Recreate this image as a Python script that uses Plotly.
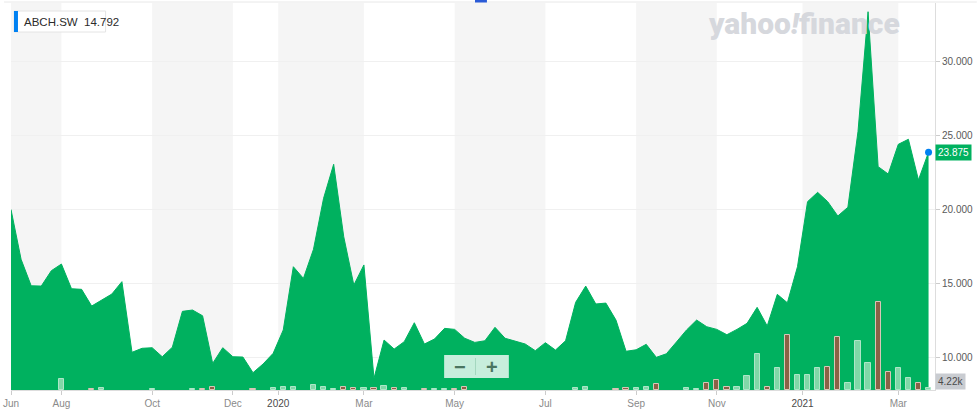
import plotly.graph_objects as go

# ---------------- data ----------------
weeks = list(range(92))  # weekly points (index based x, as in the original chart)
price = [20.0, 16.63, 14.84, 14.82, 15.86, 16.31, 14.64, 14.60, 13.47, 13.88,
         14.28, 15.12, 10.34, 10.61, 10.65, 10.04, 10.68, 13.11, 13.20, 12.81,
         9.59, 10.65, 10.04, 10.02, 8.96, 9.55, 10.27, 11.85, 16.13, 15.34,
         17.31, 20.76, 23.06, 18.16, 14.89, 16.25, 8.58, 11.17, 10.56, 11.06,
         12.34, 10.90, 11.24, 11.96, 11.89, 11.29, 11.01, 11.12, 12.03, 11.29,
         11.12, 10.90, 10.45, 10.99, 10.49, 11.12, 13.72, 14.82, 13.61, 13.67,
         12.52, 10.41, 10.51, 10.88, 10.00, 10.24, 11.04, 11.85, 12.52, 12.07,
         11.89, 11.53, 11.89, 12.30, 13.38, 12.12, 14.26, 13.69, 16.13, 20.53,
         21.16, 20.53, 19.56, 20.15, 25.26, 33.38, 22.90, 22.40, 24.41, 24.75,
         22.00, 23.875]
volume_k = [0, 0, 0, 0, 0, 20.1, 0, 0, 1.8, 3.1,
            0, 0, 0, 0, 1.8, 0, 0, 0, 1.8, 1.8,
            4.9, 0, 0, 0, 1.8, 0, 3.1, 4.9, 4.9, 0,
            8.6, 4.9, 1.8, 6.0, 3.1, 3.1, 3.1, 7.3, 3.1, 3.1,
            0, 1.8, 1.8, 1.8, 1.8, 4.6, 0, 0, 0, 0,
            0, 0, 0, 0, 0, 0, 3.1, 4.9, 0, 0,
            1.8, 3.1, 3.1, 5.5, 10.4, 0, 0, 3.1, 1.8, 12.3,
            18.3, 5.5, 4.9, 25.6, 65.9, 4.9, 40.3, 100.7, 27.5, 27.5,
            39.7, 41.5, 96.4, 12.3, 89.1, 48.9, 160.5, 32.9, 40.3, 21.4,
            12.3, 4.22]
tick_pos = [0, 5, 14, 22, 26.5, 35, 44, 53, 62, 70, 78.5, 88]
tick_labels = ["Jun", "Aug", "Oct", "Dec", "2020", "Mar", "May", "Jul", "Sep", "Nov", "2021", "Mar"]
y_ticks = [10, 15, 20, 25, 30]
symbol = "ABCH.SW"
legend_value = "14.792"
last_price = 23.875
last_volume_label = "4.22k"

# ---------------- styling ----------------
GREEN = "#00b15f"
UP_FILL, UP_LINE = "#80d8a8", "#aee6c8"
DN_FILL, DN_LINE = "#8a6246", "#d9c6b8"

W, H = 977, 414
L, R, T, B = 7, 935, 3, 390


def px(x):
    return (x - L) / (R - L)


def py(y):
    return (B - y) / (B - T)


vol_idx = [i for i in weeks if volume_k[i] > 0]
vol_val = [volume_k[i] for i in vol_idx]
vol_up = [i == 0 or price[i] >= price[i - 1] for i in vol_idx]

fig = go.Figure()
fig.add_trace(go.Scatter(x=weeks, y=price, mode="lines", fill="tozeroy",
                         line=dict(color=GREEN, width=1), fillcolor=GREEN,
                         hoverinfo="skip"))
fig.add_trace(go.Bar(x=vol_idx, y=vol_val, yaxis="y2", width=0.52,
                     marker=dict(color=[UP_FILL if u else DN_FILL for u in vol_up],
                                 line=dict(color=[UP_LINE if u else DN_LINE for u in vol_up], width=1)),
                     hoverinfo="skip"))
fig.add_trace(go.Scatter(x=[weeks[-1]], y=[price[-1]], mode="markers",
                         marker=dict(color="#0081f2", size=7), hoverinfo="skip"))

# alternating month bands
shapes = []
for k in range(0, len(tick_pos) - 1, 2):
    shapes.append(dict(type="rect", xref="x", yref="paper", x0=tick_pos[k], x1=tick_pos[k + 1],
                       y0=0, y1=1, fillcolor="#f5f5f5", line=dict(width=0), layer="below"))
# top border line
shapes.append(dict(type="line", xref="paper", yref="paper", x0=px(0), x1=px(W), y0=py(2), y1=py(2),
                   line=dict(color="#e8e8e8", width=1)))
# small blue marker at top
shapes.append(dict(type="rect", xref="paper", yref="paper", x0=px(473), x1=px(485), y0=py(0), y1=py(2.5),
                   fillcolor="#2a5bd7", line=dict(width=0)))
# legend box
shapes.append(dict(type="rect", xref="paper", yref="paper", x0=px(10), x1=px(102), y0=py(11), y1=py(32),
                   fillcolor="white", line=dict(color="#e4e4e4", width=1)))
shapes.append(dict(type="rect", xref="paper", yref="paper", x0=px(10), x1=px(14), y0=py(11), y1=py(32),
                   fillcolor="#0081f2", line=dict(width=0)))
# zoom buttons
shapes.append(dict(type="rect", xref="paper", yref="paper", x0=px(442), x1=px(507), y0=py(355), y1=py(378),
                   fillcolor="rgba(255,255,255,0.78)", line=dict(width=0)))
shapes.append(dict(type="line", xref="paper", yref="paper", x0=px(473.5), x1=px(473.5), y0=py(358), y1=py(375),
                   line=dict(color="rgba(0,110,60,0.18)", width=1)))

annotations = [
    dict(xref="paper", yref="paper", x=px(18), y=py(21.5), xanchor="left", yanchor="middle",
         text=f"{symbol}  {legend_value}", showarrow=False,
         font=dict(size=11.5, color="#2b2b2b", family="Liberation Sans")),
    dict(xref="paper", yref="paper", x=px(803), y=py(24), xanchor="center", yanchor="middle",
         text="yahoo<i>!</i>finance", showarrow=False,
         font=dict(size=30, color="#d6d8dd", family="Roboto", weight=900)),
    dict(xref="paper", yref="y", x=1, y=last_price, xanchor="left", yanchor="middle",
         text=f"{last_price:.3f}", showarrow=False, bgcolor=GREEN, borderpad=2,
         font=dict(size=10, color="white", family="Liberation Sans")),
    dict(xref="paper", yref="paper", x=1, y=py(381.7), xanchor="left", yanchor="middle",
         text=last_volume_label, showarrow=False, bgcolor="#c9ccd1", borderpad=2,
         font=dict(size=10, color="#4a4a4a", family="Liberation Sans")),
    dict(xref="paper", yref="paper", x=px(457.5), y=py(366.5), xanchor="center", yanchor="middle",
         text="<b>−</b>", showarrow=False, font=dict(size=20, color="#4a7560", family="Liberation Sans")),
    dict(xref="paper", yref="paper", x=px(490.5), y=py(366.5), xanchor="center", yanchor="middle",
         text="<b>+</b>", showarrow=False, font=dict(size=20, color="#4a7560", family="Liberation Sans")),
]

ticktext = [f"<span style='color:#4a4a4a'>{t}</span>" if t.isdigit() else t for t in tick_labels]

fig.update_layout(
    width=W, height=H,
    margin=dict(l=L, r=W - R, t=T, b=H - B, pad=0),
    plot_bgcolor="white", paper_bgcolor="white",
    showlegend=False, bargap=0,
    font=dict(family="Liberation Sans"),
    xaxis=dict(range=[-0.001, 91.64], tickvals=tick_pos, ticktext=ticktext,
               ticks="outside", ticklen=4, tickcolor="#cccccc", ticklabeloverflow="allow",
               showline=True, linecolor="#dddddd", showgrid=False, zeroline=False,
               tickfont=dict(size=10, color="#8a8a8a")),
    yaxis=dict(side="right", range=[7.79, 33.97], tickvals=y_ticks, tickformat=".3f",
               ticks="outside", ticklen=4, tickcolor="#cccccc", ticklabeloverflow="allow",
               showline=True, linecolor="#dddddd", gridcolor="#f0f0f0", zeroline=False,
               tickfont=dict(size=10, color="#5a5a5a")),
    yaxis2=dict(overlaying="y", range=[0, (B - T) * 1.83], visible=False),
    shapes=shapes, annotations=annotations,
)

fig.write_html("out.html", config={"displayModeBar": False},
               post_script="document.body.style.margin='0';document.body.style.overflow='hidden';")
